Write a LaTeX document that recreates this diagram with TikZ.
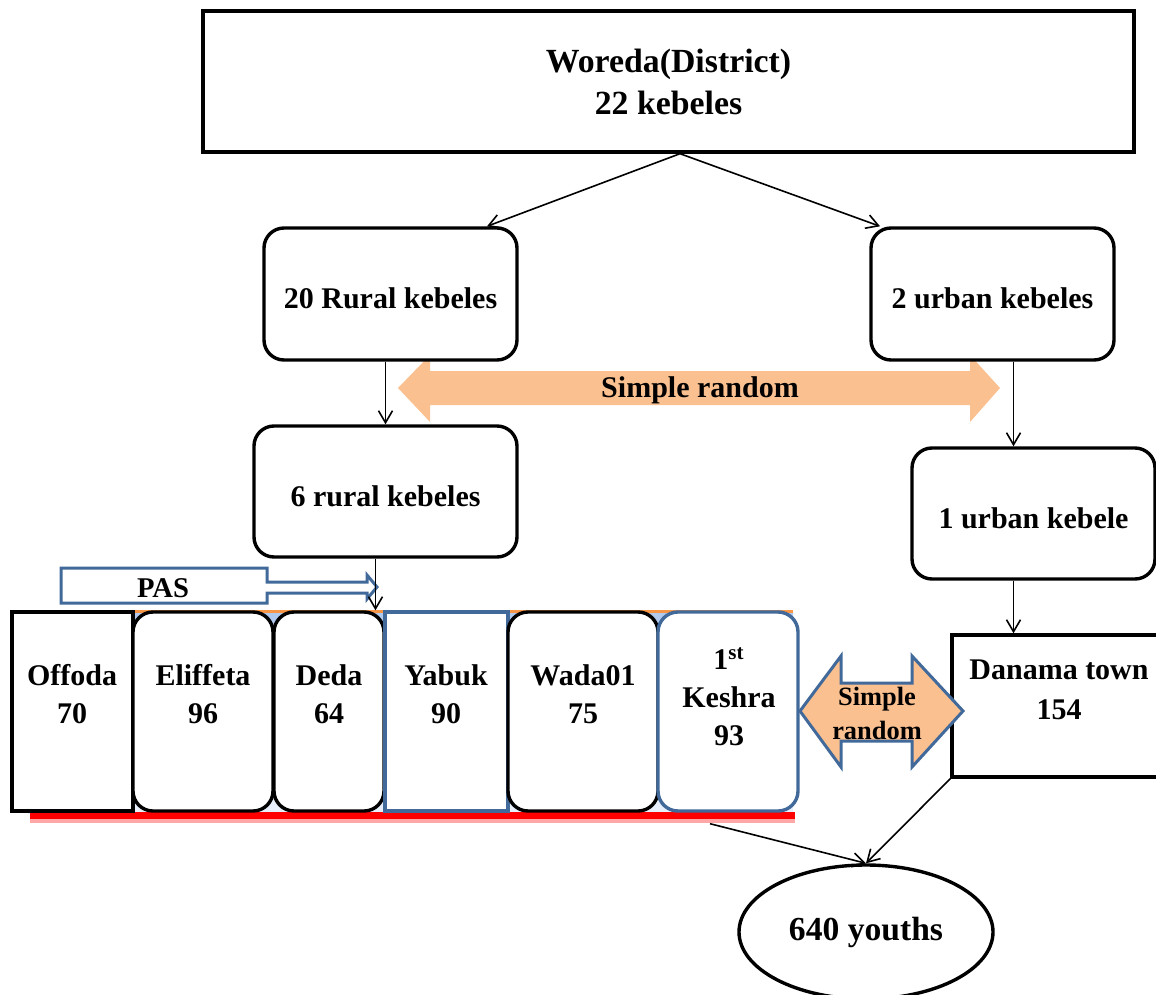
\documentclass[tikz,border=0pt]{standalone}
\usepackage{fontspec}
\setmainfont{Liberation Serif}
\usetikzlibrary{arrows.meta,shapes.geometric,calc}
\definecolor{srfill}{HTML}{FAC090}
\definecolor{blueline}{HTML}{41699A}
\definecolor{rowtop}{HTML}{AFC8EE}
\definecolor{rowbot}{HTML}{E8F0FB}
\definecolor{rowedge}{HTML}{F79646}
\begin{document}
\begin{tikzpicture}[x=0.5pt,y=-0.5pt,
  font=\bfseries\fontsize{15}{19}\selectfont,
  box/.style={draw=black,line width=1.7pt,fill=white,inner sep=0pt,align=center},
  rbox/.style={box,rounded corners=10pt,text height=15pt},
  rowbox/.style={minimum height=99.5pt},
  conn/.style={line width=0.8pt,-{Straight Barb[length=6pt,width=7pt]}},
  txt/.style={align=center,inner sep=0pt},
  srarrow/.style={fill=srfill}]
\useasboundingbox (0,0) rectangle (1156,995);
\clip (0,0) rectangle (1156,995);

% big simple random double arrow
\fill[srarrow] (398,388) -- (430,355) -- (430,371) -- (970,371) -- (970,355) -- (1000,388)
  -- (970,422) -- (970,405) -- (430,405) -- (430,422) -- cycle;

% top level boxes
\node[box,minimum width=465.5pt,minimum height=70.5pt,
  font=\bfseries\fontsize{16.9}{21}\selectfont] (top) at (668.5,81.5) {Woreda(District)\\22 kebeles};
\node[rbox,minimum width=126.5pt,minimum height=66pt] (rural) at (390.5,294) {20 Rural kebeles};
\node[rbox,minimum width=121.5pt,minimum height=66pt] (urban) at (992.5,294) {2 urban kebeles};
\node[rbox,minimum width=131.5pt,minimum height=65.5pt] (six) at (385.5,491.5) {6 rural kebeles};
\node[rbox,minimum width=121.5pt,minimum height=65.5pt] (one) at (1033.5,513.5) {1 urban kebele};
\node[txt] (srtext) at (700,390) {Simple random};

% Danama town
\node[box,minimum width=106.5pt,minimum height=71pt] (danama) at (1058.5,706) {};
\node[txt,font=\bfseries\fontsize{15}{20}\selectfont] (danamaT) at (1059,690) {Danama town\\154};

% row background
\shade[top color=rowtop,bottom color=rowbot] (28,611) rectangle (793,813);
\fill[red!35] (30,818) rectangle (795,823);
\fill[red] (30,812) rectangle (795,819);
\draw[rowedge,line width=1.5pt] (28,611) -- (793,611);

% row boxes
\node[box,rowbox,minimum width=60.5pt] (offoda) at (72.5,711.5) {};
\node[box,rowbox,rounded corners=10pt,minimum width=70pt] (eliffeta) at (203,711.5) {};
\node[box,rowbox,rounded corners=10pt,minimum width=55pt] (deda) at (329,711.5) {};
\node[box,rowbox,draw=blueline,minimum width=61.5pt] (yabuk) at (446.5,711.5) {};
\node[box,rowbox,rounded corners=10pt,minimum width=75pt] (wada) at (583,711.5) {};
\node[box,rowbox,rounded corners=10pt,draw=blueline,minimum width=70pt] (keshra) at (728,711.5) {};

\node[txt] (offodaT) at (72,694) {Offoda\\70};
\node[txt] (eliffetaT) at (203,694) {Eliffeta\\96};
\node[txt] (dedaT) at (329,694) {Deda\\64};
\node[txt] (yabukT) at (446,694) {Yabuk\\90};
\node[txt] (wadaT) at (583,694) {Wada01\\75};
\node[txt] (keshraT) at (729,697) {1\textsuperscript{st}\\Keshra\\93};

% PAS arrow
\draw[blueline,line width=1.5pt,fill=white] (61,568) -- (267,568) -- (267,582) -- (367,582) -- (367,575)
  -- (377,587) -- (367,599) -- (367,593) -- (267,593) -- (267,603) -- (61,603) -- cycle;
\node[txt,font=\bfseries\fontsize{14.3}{17}\selectfont] (pas) at (163,588) {PAS};

% small simple random double arrow
\draw[srarrow,draw=blueline,line width=1.5pt] (800,711) -- (841,656) -- (841,683) -- (912,683) -- (912,656)
  -- (963,711) -- (912,767) -- (912,741) -- (841,741) -- (841,767) -- cycle;
\node[txt,font=\bfseries\fontsize{13.2}{17}\selectfont] (srsmall) at (877,713) {Simple\\random};

% final
\node[draw,ellipse,line width=1.7pt,fill=white,minimum width=127pt,minimum height=67pt,
  font=\bfseries\fontsize{16.8}{20}\selectfont] (youth) at (866,932) {640 youths};

% connectors
\draw[conn] ([xshift=5.75pt]top.south) -- ([xshift=48.25pt]rural.north);
\draw[conn] ([xshift=5.75pt]top.south) -- ([xshift=-56.25pt]urban.north);
\draw[conn] (six.north |- rural.south) -- (six.north);
\draw[conn] ([xshift=10.5pt]urban.south) -- ([xshift=-10pt]one.north);
\draw[conn] ([xshift=-10pt]one.south) -- ([xshift=-22.5pt]danama.north);
\draw[conn] ([xshift=-5pt]six.south) -- ([xshift=-5pt]six.south |- deda.north);
\draw[conn] ([shift={(-9pt,-5.5pt)}]keshra.south) -- (youth.north);
\draw[conn] (danama.south west) -- (youth.north);
\end{tikzpicture}
\end{document}
